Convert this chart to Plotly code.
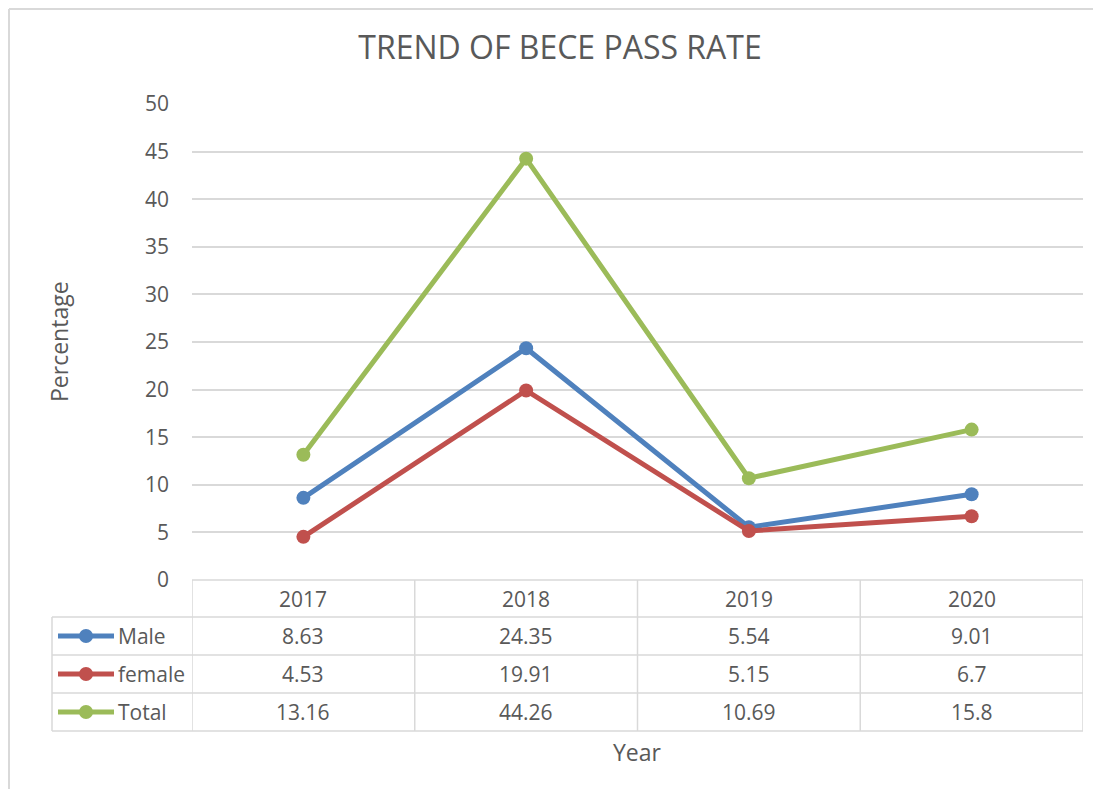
"""Trend of BECE pass rate - line chart with Excel-style data table"""

import plotly.graph_objects as go

# Data
years = ["2017", "2018", "2019", "2020"]
series_names = ["Male", "female", "Total"]
male = [8.63, 24.35, 5.54, 9.01]
female = [4.53, 19.91, 5.15, 6.7]
total = [13.16, 44.26, 10.69, 15.8]
y_ticks = [0, 5, 10, 15, 20, 25, 30, 35, 40, 45, 50]

colors = ["#4F81BD", "#C0504D", "#9BBB59"]
text_color = "#595959"
grid_color = "#D9D9D9"
font_family = "Open Sans"

# the page body has an 8px margin on each side, keep the figure inside the window
OFF = 8
W, H = 1101 - 2 * OFF, 797 - 2 * OFF
L, T = 192 - OFF, 104 - OFF
R = W - (1083 - OFF)
B = H - (580 - OFF)
plot_w = W - L - R
plot_h = H - T - B


def px_x(x):
    """screen pixel x -> paper x"""
    return (x - OFF - L) / plot_w


def px_y(y):
    """screen pixel y -> paper y"""
    return (H - B - (y - OFF)) / plot_h


fig = go.Figure()

for name, vals, col in zip(series_names, [male, female, total], colors):
    fig.add_trace(
        go.Scatter(
            x=list(range(len(years))),
            y=vals,
            name=name,
            mode="lines+markers",
            line=dict(color=col, width=5),
            marker=dict(color=col, size=14),
            showlegend=False,
        )
    )

shapes = []
annotations = []

# Outer chart border: only top and left edges are visible
border = dict(color=grid_color, width=2)
shapes.append(dict(type="line", xref="paper", yref="paper",
                   x0=px_x(OFF + 1), x1=px_x(OFF + W), y0=px_y(OFF + 1), y1=px_y(OFF + 1),
                   line=border, layer="below"))
shapes.append(dict(type="line", xref="paper", yref="paper",
                   x0=px_x(OFF + 1), x1=px_x(OFF + 1), y0=px_y(OFF + H), y1=px_y(OFF + 1),
                   line=border, layer="below"))

# Table rows (screen pixel y)
row_edges = [580, 617, 655, 693, 731]
n_cols = len(years)
line_style = dict(color=grid_color, width=1.5)

# horizontal lines
for i, ry in enumerate(row_edges):
    if i == 0:
        shapes.append(dict(type="line", xref="x", yref="paper", x0=-0.5, x1=n_cols - 0.5,
                           y0=px_y(ry), y1=px_y(ry), line=line_style))
    else:
        shapes.append(dict(type="line", xref="paper", yref="paper", x0=px_x(52), x1=1,
                           y0=px_y(ry), y1=px_y(ry), line=line_style))

# vertical lines
for k in range(n_cols + 1):
    shapes.append(dict(type="line", xref="x", yref="paper", x0=k - 0.5, x1=k - 0.5,
                       y0=px_y(row_edges[-1]), y1=px_y(row_edges[0]), line=line_style))
shapes.append(dict(type="line", xref="paper", yref="paper", x0=px_x(52), x1=px_x(52),
                   y0=px_y(row_edges[-1]), y1=px_y(row_edges[1]), line=line_style))

cell_font = dict(family=font_family, size=21, color=text_color)

# header
hdr_y = px_y((row_edges[0] + row_edges[1]) / 2)
for k, yr in enumerate(years):
    annotations.append(dict(x=k, y=hdr_y, xref="x", yref="paper", text=yr,
                            showarrow=False, xanchor="center", yanchor="middle",
                            font=cell_font))

# body rows
for r, (name, vals, col) in enumerate(zip(series_names, [male, female, total], colors)):
    cy = px_y((row_edges[r + 1] + row_edges[r + 2]) / 2)
    for k, v in enumerate(vals):
        annotations.append(dict(x=k, y=cy, xref="x", yref="paper", text=f"{v:g}",
                                showarrow=False, xanchor="center", yanchor="middle",
                                font=cell_font))
    annotations.append(dict(x=px_x(116), y=cy, xref="paper", yref="paper", text=name,
                            showarrow=False, xanchor="left", yanchor="middle",
                            font=cell_font))
    # legend key
    shapes.append(dict(type="line", xref="paper", yref="paper", x0=px_x(58), x1=px_x(114),
                       y0=cy, y1=cy, line=dict(color=col, width=5)))
    shapes.append(dict(type="circle", xref="paper", yref="paper",
                       x0=px_x(86 - 7), x1=px_x(86 + 7),
                       y0=cy - 7 / plot_h, y1=cy + 7 / plot_h,
                       fillcolor=col, line=dict(color=col, width=0)))

# axis titles
annotations.append(dict(x=px_x(637), y=px_y(752), xref="paper", yref="paper", text="Year",
                        showarrow=False, xanchor="center", yanchor="middle",
                        font=dict(family=font_family, size=23, color=text_color)))
annotations.append(dict(x=px_x(59), y=px_y(342), xref="paper", yref="paper", text="Percentage",
                        showarrow=False, textangle=-90, xanchor="center", yanchor="middle",
                        font=dict(family=font_family, size=23, color=text_color)))

fig.update_layout(
    width=W,
    height=H,
    margin=dict(l=L, r=R, t=T, b=B),
    paper_bgcolor="white",
    plot_bgcolor="white",
    title=dict(
        text="TREND OF BECE PASS RATE",
        x=(560 - OFF) / W, xanchor="center",
        y=1 - (48 - OFF) / H, yanchor="middle",
        font=dict(family=font_family, size=32, color=text_color),
    ),
    xaxis=dict(
        range=[-0.5, n_cols - 0.5],
        showticklabels=False,
        showgrid=False,
        zeroline=False,
        showline=False,
        fixedrange=True,
    ),
    yaxis=dict(
        range=[0, 50],
        tickvals=y_ticks,
        showgrid=True,
        gridcolor=grid_color,
        gridwidth=1.5,
        zeroline=False,
        showline=False,
        ticks="",
        ticklabelstandoff=22,
        tickfont=dict(family=font_family, size=21, color=text_color),
    ),
    shapes=shapes,
    annotations=annotations,
    font=dict(family=font_family, color=text_color),
)

fig.write_html("out.html")
